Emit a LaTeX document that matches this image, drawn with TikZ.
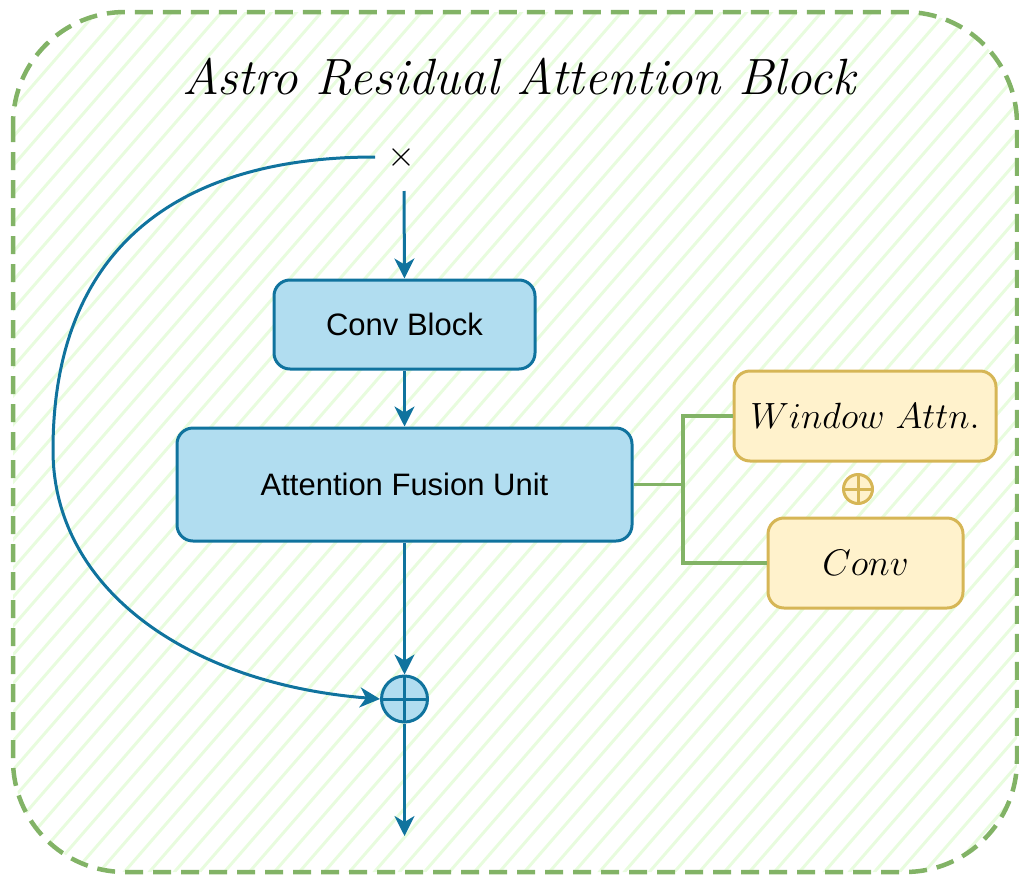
\RequirePackage{fix-cm}
\documentclass[tikz,border=0pt]{standalone}
\usepackage{fontspec}
\newfontfamily\arialf{Liberation Sans}
\usetikzlibrary{arrows.meta,calc}
\definecolor{bfill}{HTML}{B1DDF0}
\definecolor{bdraw}{HTML}{10739E}
\definecolor{yfill}{HTML}{FFF2CC}
\definecolor{ydraw}{HTML}{D6B656}
\definecolor{gdraw}{HTML}{82B366}
\definecolor{hatch}{RGB}{232,252,222}
\tikzset{
  bluebox/.style={draw=bdraw, fill=bfill, line width=3pt, rounded corners=16pt, inner sep=0pt, font=\arialf\fontsize{31}{36}\selectfont},
  yellowbox/.style={draw=ydraw, fill=yfill, line width=3pt, rounded corners=16pt, inner sep=0pt, font=\fontsize{37}{44}\selectfont},
  flow/.style={draw=bdraw, line width=3pt, -{Stealth[length=20pt,width=20pt,inset=6pt]}},
  gline/.style={draw=gdraw, line width=3.5pt},
  sumnode/.style={circle, draw=bdraw, fill=bfill, line width=3pt, minimum size=46pt, inner sep=0pt,
    path picture={\draw[bdraw, line width=3pt] (path picture bounding box.north) -- (path picture bounding box.south)
      (path picture bounding box.west) -- (path picture bounding box.east);}},
  smallsum/.style={circle, draw=ydraw, fill=yfill, line width=3pt, minimum size=29pt, inner sep=0pt,
    path picture={\draw[ydraw, line width=3pt] (path picture bounding box.north) -- (path picture bounding box.south)
      (path picture bounding box.west) -- (path picture bounding box.east);}},
}
\begin{document}
\begin{tikzpicture}[x=1pt, y=-1pt]
\useasboundingbox (0,0) rectangle (1019,878);
% container hatch
\begin{scope}
  \clip[rounded corners=112pt] (13,12) rectangle (1017,872);
  \foreach \i in {-38,...,42}{
    \draw[hatch, line width=3pt] ({\i*25},900) -- ({\i*25+782},0);
  }
\end{scope}
\draw[gdraw, line width=4.5pt, dash pattern=on 18pt off 10pt, rounded corners=112pt] (13,12) rectangle (1017,872);
% title
\node (title) at (519,77) {\fontsize{51}{58}\selectfont\itshape Astro Residual Attention Block};
% nodes
\node (xm) at (401,157) {\fontsize{36}{40}\selectfont$\times$};
\coordinate (xl) at (375,157);
\coordinate (xin) at (404,191);
\node[bluebox, minimum width=261pt, minimum height=89pt] (conv) at (404.5,324.5) {Conv Block};
\node[bluebox, minimum width=455pt, minimum height=113pt] (afu) at (404.5,484.5) {Attention Fusion Unit};
\node[sumnode] (sum) at (404.5,699) {};
\coordinate (out) at (404.5,836);
\node[yellowbox, minimum width=262pt, minimum height=90pt] (win) at (865,416) {\fontsize{36.5}{42}\selectfont$Window\ Attn.$};
\node[yellowbox, minimum width=195pt, minimum height=90pt] (cv) at (865.5,563) {$Conv$};
\node[smallsum] (ps) at (858,489) {};
% connectors
\draw[flow] (xin) -- (conv.north);
\draw[flow] (conv.south) -- (afu.north);
\draw[flow] (afu.south) -- (sum.north);
\draw[flow] (sum.south) -- (out);
\draw[flow] (xl) .. controls (170,157) and (53,255) .. (53,450)
  .. controls (53,590) and (190,684) .. (sum.west);
\draw[gline] (afu.east) -- (683,484.5) coordinate (br);
\draw[gline] (br) |- (win.west);
\draw[gline] (br) |- (cv.west);
\end{tikzpicture}
\end{document}
